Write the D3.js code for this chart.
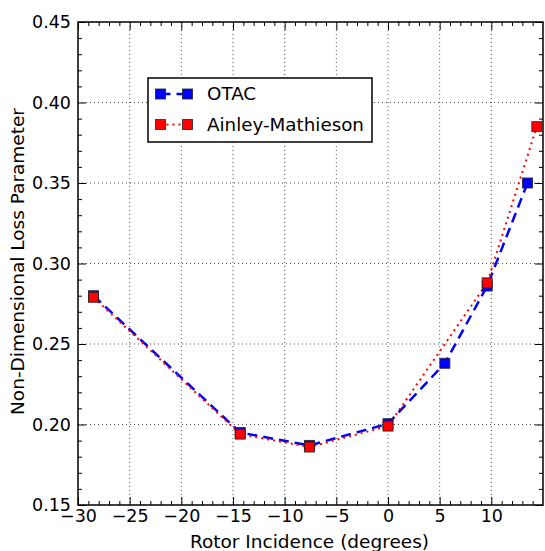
<!DOCTYPE html>
<html>
<head>
<meta charset="utf-8">
<script src="https://cdn.jsdelivr.net/npm/d3@7"></script>
<style>
  body { margin: 0; background: #fff; }
  text { font-family: "DejaVu Sans", sans-serif; fill: #000; }
</style>
</head>
<body>
<div id="chart-area"></div>
<script>
// data
const otacX = [-28.5, -14.3, -7.6, 0, 5.5, 9.6, 13.5]
const otacY = [0.280, 0.195, 0.187, 0.2005, 0.238, 0.286, 0.350]
const ainleyX = [-28.5, -14.3, -7.6, 0, 9.6, 14.4]
const ainleyY = [0.279, 0.194, 0.186, 0.199, 0.288, 0.385]
const xTicks = [-30, -25, -20, -15, -10, -5, 0, 5, 10]
const yTicks = [0.15, 0.20, 0.25, 0.30, 0.35, 0.40, 0.45]
const seriesNames = ['OTAC', 'Ainley-Mathieson']

const W = 545, H = 551
const margin = { left: 78, right: 2, top: 22, bottom: 46 }
const width = W - margin.left - margin.right
const height = H - margin.top - margin.bottom

const svg = d3.select('#chart-area').append('svg')
    .attr('width', W)
    .attr('height', H)

const g = svg.append('g')
    .attr('transform', `translate(${margin.left}, ${margin.top})`)

const xScale = d3.scaleLinear().domain([-30, 15]).range([0, width])
const yScale = d3.scaleLinear().domain([0.15, 0.45]).range([height, 0])

// grid
g.append('g').selectAll('line')
    .data(xTicks.filter(t => t > -30))
    .enter().append('line')
    .attr('x1', d => xScale(d)).attr('x2', d => xScale(d))
    .attr('y1', 0).attr('y2', height)
    .attr('stroke', '#222').attr('stroke-width', 0.8)
    .attr('stroke-dasharray', '1,3')
g.append('g').selectAll('line')
    .data(yTicks.filter(t => t > 0.15 && t < 0.45))
    .enter().append('line')
    .attr('y1', d => yScale(d)).attr('y2', d => yScale(d))
    .attr('x1', 0).attr('x2', width)
    .attr('stroke', '#222').attr('stroke-width', 0.8)
    .attr('stroke-dasharray', '1,3')

// ticks (inward, all four sides)
const fmtX = d => d < 0 ? '\u2212' + Math.abs(d) : '' + d
const xMinor = d3.range(-29, 15, 1).filter(v => v % 5 !== 0)
const yMinor = d3.range(16, 45, 1).map(v => v / 100).filter(v => Math.round(v * 100) % 5 !== 0)

const xAxisB = d3.axisBottom(xScale).tickValues(xTicks).tickSizeInner(-8).tickSizeOuter(0).tickPadding(5).tickFormat(fmtX)
const xAxisT = d3.axisTop(xScale).tickValues(xTicks).tickSizeInner(-8).tickSizeOuter(0).tickFormat('')
const yAxisL = d3.axisLeft(yScale).tickValues(yTicks).tickSizeInner(-8).tickSizeOuter(0).tickPadding(7).tickFormat(d3.format('.2f'))
const yAxisR = d3.axisRight(yScale).tickValues(yTicks).tickSizeInner(-8).tickSizeOuter(0).tickFormat('')

const axisGroups = [
    g.append('g').attr('transform', `translate(0, ${height})`).call(xAxisB),
    g.append('g').call(xAxisT),
    g.append('g').call(yAxisL),
    g.append('g').attr('transform', `translate(${width}, 0)`).call(yAxisR),
    g.append('g').attr('transform', `translate(0, ${height})`).call(d3.axisBottom(xScale).tickValues(xMinor).tickSizeInner(-4).tickSizeOuter(0).tickFormat('')),
    g.append('g').call(d3.axisTop(xScale).tickValues(xMinor).tickSizeInner(-4).tickSizeOuter(0).tickFormat('')),
    g.append('g').call(d3.axisLeft(yScale).tickValues(yMinor).tickSizeInner(-4).tickSizeOuter(0).tickFormat('')),
    g.append('g').attr('transform', `translate(${width}, 0)`).call(d3.axisRight(yScale).tickValues(yMinor).tickSizeInner(-4).tickSizeOuter(0).tickFormat(''))
]
axisGroups.forEach(a => {
    a.select('.domain').remove()
    a.selectAll('line').attr('stroke', '#000').attr('stroke-width', 1)
    a.selectAll('text').attr('font-size', '17.5px').attr('font-family', 'DejaVu Sans').attr('fill', '#000')
})

// frame
g.append('rect')
    .attr('width', width).attr('height', height)
    .attr('fill', 'none').attr('stroke', '#000').attr('stroke-width', 1.5)

// series lines
const otac = otacX.map((x, i) => ({ x, y: otacY[i] }))
const ainley = ainleyX.map((x, i) => ({ x, y: ainleyY[i] }))
const line = d3.line().x(d => xScale(d.x)).y(d => yScale(d.y))

g.append('path').datum(otac)
    .attr('d', line).attr('fill', 'none')
    .attr('stroke', '#0000ff').attr('stroke-width', 2.5)
    .attr('stroke-dasharray', '10,6')
g.append('path').datum(ainley)
    .attr('d', line).attr('fill', 'none')
    .attr('stroke', '#ff0000').attr('stroke-width', 2)
    .attr('stroke-dasharray', '2,4')

const ms = 10
g.append('g').selectAll('rect').data(otac).enter().append('rect')
    .attr('x', d => xScale(d.x) - ms / 2).attr('y', d => yScale(d.y) - ms / 2)
    .attr('width', ms).attr('height', ms)
    .attr('fill', '#0000ff').attr('stroke', '#222').attr('stroke-opacity', 0.8).attr('stroke-width', 1)
g.append('g').selectAll('rect').data(ainley).enter().append('rect')
    .attr('x', d => xScale(d.x) - ms / 2).attr('y', d => yScale(d.y) - ms / 2)
    .attr('width', ms).attr('height', ms)
    .attr('fill', '#ff0000').attr('stroke', '#222').attr('stroke-opacity', 0.8).attr('stroke-width', 1)

// legend
const lg = svg.append('g').attr('transform', 'translate(148, 78)')
lg.append('rect').attr('width', 224).attr('height', 64)
    .attr('fill', '#fff').attr('stroke', '#000').attr('stroke-width', 1.5)
const legendStyles = [
    { color: '#0000ff', dash: '10,6', w: 2.5 },
    { color: '#ff0000', dash: '2,4', w: 2 }
]
seriesNames.forEach((name, i) => {
    const yy = 16 + i * 30.5
    const s = legendStyles[i]
    lg.append('line').attr('x1', 12.5).attr('x2', 39.5).attr('y1', yy).attr('y2', yy)
        .attr('stroke', s.color).attr('stroke-width', s.w).attr('stroke-dasharray', s.dash)
    ;[12.5, 39.5].forEach(cx => {
        lg.append('rect').attr('x', cx - ms / 2).attr('y', yy - ms / 2)
            .attr('width', ms).attr('height', ms)
            .attr('fill', s.color).attr('stroke', '#222').attr('stroke-opacity', 0.8)
    })
    lg.append('text').attr('x', 59).attr('y', yy).attr('dy', '0.35em')
        .attr('font-size', '18.3px').text(name)
})

// axis labels
svg.append('text')
    .attr('x', margin.left + width / 2 - 1).attr('y', H - 3)
    .attr('text-anchor', 'middle').attr('font-size', '18.5px')
    .text('Rotor Incidence (degrees)')
svg.append('text')
    .attr('transform', `translate(24, ${margin.top + height / 2 - 2}) rotate(-90)`)
    .attr('text-anchor', 'middle').attr('font-size', '18.5px')
    .text('Non-Dimensional Loss Parameter')
</script>
</body>
</html>
